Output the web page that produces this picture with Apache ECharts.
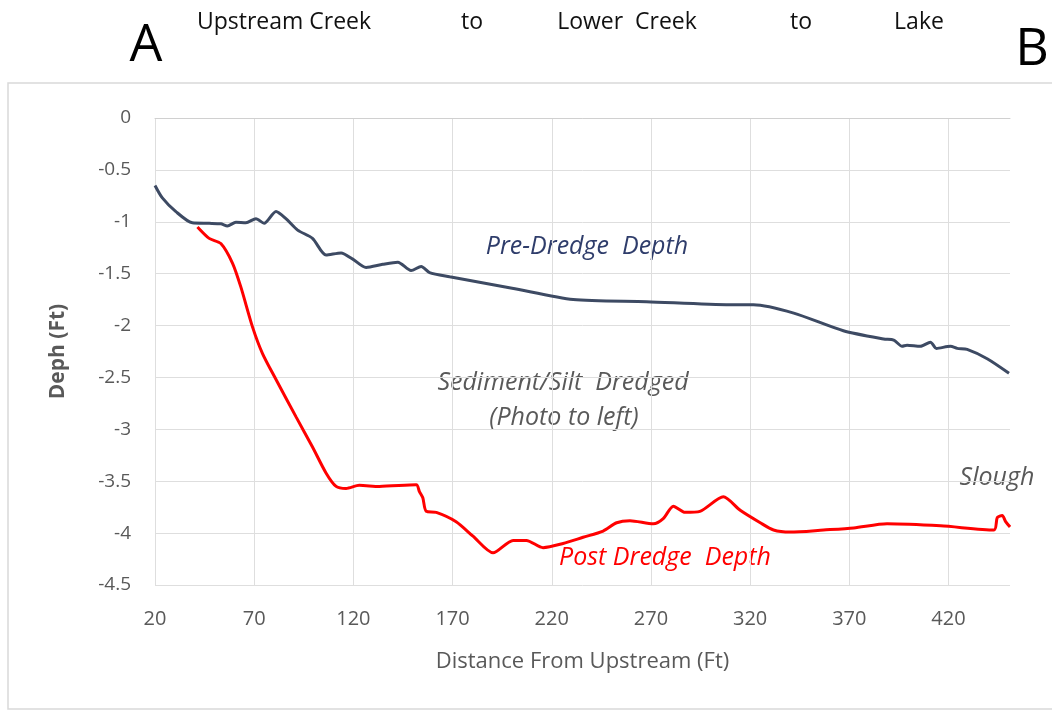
<!DOCTYPE html>
<html>
<head>
<meta charset="utf-8">
<script src="https://cdn.jsdelivr.net/npm/echarts@6/dist/echarts.min.js"></script>
<style>
  html, body { margin: 0; padding: 0; background: #ffffff; }
  #chart { width: 1052px; height: 713px; }
</style>
</head>
<body>
<div id="chart"></div>
<script>
// ---- Data ----
const preDistance = [20, 23.7, 30.4, 38.8, 47.3, 53.2, 56.5, 60.8, 65.8, 70.9, 75, 81, 86, 91.9, 99.4, 106.2, 113.8, 119.7, 126.4, 134.8, 142.4, 149.1, 154.2, 158.4, 168.5, 200, 230.8, 267.8, 309.9, 321.7, 342, 367, 387.3, 392.4, 396.6, 399.1, 405.8, 410.9, 413.9, 421, 424.4, 429.4, 439.5, 450.5];
const preDepth    = [-0.65, -0.77, -0.90, -1.01, -1.015, -1.02, -1.04, -1.005, -1.01, -0.97, -1.015, -0.90, -0.97, -1.08, -1.16, -1.32, -1.30, -1.36, -1.44, -1.41, -1.39, -1.47, -1.43, -1.49, -1.53, -1.64, -1.75, -1.77, -1.80, -1.80, -1.88, -2.05, -2.13, -2.14, -2.20, -2.19, -2.20, -2.16, -2.22, -2.20, -2.22, -2.23, -2.32, -2.46];

const postDistance = [41.4, 47.3, 53.2, 59.1, 63.3, 69.1, 74.2, 81, 91.1, 99.4, 106.2, 111.3, 116.3, 123, 133.1, 151.7, 153.3, 155, 156.7, 161.8, 171.8, 180.3, 190.4, 200.5, 207.2, 215.6, 225.7, 235.8, 245.9, 252.7, 259.4, 271.2, 276.2, 281.3, 287.2, 294.7, 306.5, 315, 325.1, 331.8, 340.2, 357, 372.2, 389, 416, 442.9, 444.6, 447.1, 448.8, 451];
const postDepth    = [-1.05, -1.16, -1.21, -1.40, -1.63, -2.01, -2.27, -2.52, -2.88, -3.17, -3.42, -3.55, -3.57, -3.54, -3.55, -3.535, -3.60, -3.66, -3.79, -3.80, -3.89, -4.03, -4.19, -4.07, -4.07, -4.14, -4.10, -4.04, -3.98, -3.90, -3.88, -3.91, -3.86, -3.74, -3.80, -3.79, -3.65, -3.78, -3.90, -3.97, -3.99, -3.97, -3.95, -3.91, -3.93, -3.97, -3.85, -3.83, -3.89, -3.94];

const xTickLabels = [20, 70, 120, 170, 220, 270, 320, 370, 420];
const yTickLabels = [0, -0.5, -1, -1.5, -2, -2.5, -3, -3.5, -4, -4.5];

const headerTexts = ['Upstream Creek', 'to', 'Lower  Creek', 'to', 'Lake'];

// ---- Build ----
const zip = (xs, ys) => xs.map((x, i) => [x, ys[i]]);
const chart = echarts.init(document.getElementById('chart'), null, { renderer: 'canvas' });

const FONT = '"Open Sans", "Liberation Sans", sans-serif';
const GRAY = '#595959';

const headerCenters = [284, 472, 627, 801, 919];

function label(text, cx, cy, size, color, italic) {
  return {
    type: 'text', x: cx, y: cy,
    style: {
      text: text, font: (italic ? 'italic ' : '') + size + 'px ' + FONT,
      fill: color, textAlign: 'center', textVerticalAlign: 'middle'
    }
  };
}

const option = {
  backgroundColor: '#ffffff',
  animation: false,
  grid: { left: 155, right: 42, top: 118, bottom: 128, containLabel: false },
  xAxis: {
    type: 'value',
    min: 20,
    max: 451,
    interval: 50,
    name: 'Distance From Upstream (Ft)',
    nameLocation: 'middle',
    nameGap: 66,
    nameTextStyle: { color: GRAY, fontSize: 22, fontFamily: FONT },
    axisLine: { show: true, lineStyle: { color: '#d0d0d0', width: 1 } },
    axisTick: { show: false },
    axisLabel: {
      color: GRAY, fontSize: 20, fontFamily: FONT, margin: 24,
      formatter: v => (xTickLabels.indexOf(Math.round(v)) >= 0 && Math.abs(v - Math.round(v)) < 1e-6) ? String(Math.round(v)) : ''
    },
    splitLine: { show: true, showMaxLine: false, lineStyle: { color: '#dedede', width: 1 } }
  },
  yAxis: {
    type: 'value',
    min: -4.5,
    max: 0,
    interval: 0.5,
    name: 'Deph (Ft)',
    nameLocation: 'middle',
    nameGap: 86,
    nameRotate: 90,
    nameTextStyle: { color: GRAY, fontSize: 21, fontWeight: 'bold', fontFamily: FONT },
    axisLine: { show: false },
    axisTick: { show: false },
    axisLabel: {
      color: GRAY, fontSize: 19, fontFamily: FONT, margin: 24,
      formatter: v => { const r = Math.round(v * 10) / 10; return yTickLabels.indexOf(r) >= 0 ? String(r) : ''; }
    },
    splitLine: { show: true, lineStyle: { color: '#dedede', width: 1 } }
  },
  series: [
    {
      name: 'Pre-Dredge Depth',
      type: 'line',
      data: zip(preDistance, preDepth),
      showSymbol: false,
      smooth: 0.25,
      lineStyle: { color: '#3d4a63', width: 3 },
      z: 3
    },
    {
      name: 'Post Dredge Depth',
      type: 'line',
      data: zip(postDistance, postDepth),
      showSymbol: false,
      smooth: 0.25,
      lineStyle: { color: '#ff0000', width: 3 },
      z: 4
    }
  ],
  graphic: [
    { type: 'rect', shape: { x: 8, y: 83, width: 1080, height: 626 }, style: { fill: 'none', stroke: '#d9d9d9', lineWidth: 1.5 }, z: -10, silent: true },
    label('A', 146, 46, 52, '#000000', false),
    label('B', 1032, 50, 52, '#000000', false),
    ...headerTexts.map((t, i) => label(t, headerCenters[i], 22, 23, '#111111', false)),
    label('Pre-Dredge  Depth', 587, 247, 25, '#2f3d6b', true),
    label('Sediment/Silt  Dredged', 563, 383, 25, GRAY, true),
    label('(Photo to left)', 564, 418, 25, GRAY, true),
    label('Slough', 997, 478, 25, GRAY, true),
    label('Post Dredge  Depth', 665, 558, 25, '#ff0000', true)
  ]
};
chart.setOption(option);
</script>
</body>
</html>
